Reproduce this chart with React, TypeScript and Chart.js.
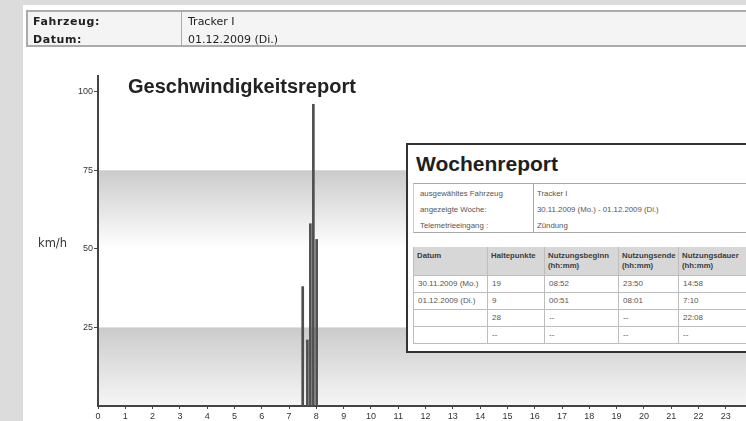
import React, { useEffect, useRef } from 'react';
import { Chart, registerables } from 'chart.js';

Chart.register(...registerables);

// ---- data ----
const stopHours = [7.5, 7.67, 7.78, 7.89, 8.01];
const speedsKmh = [38, 21, 58, 96, 53];
const xTickValues = [0, 1, 2, 3, 4, 5, 6, 7, 8, 9, 10, 11, 12, 13, 14, 15, 16, 17, 18, 19, 20, 21, 22, 23];
const yTickValues = [25, 50, 75, 100];
const shadedBands = [
  [50, 75],
  [0, 25],
];
const chartTitle = 'Geschwindigkeitsreport';
const yAxisLabel = 'km/h';
const headerRows = [
  ['Fahrzeug:', 'Tracker I'],
  ['Datum:', '01.12.2009 (Di.)'],
];
const reportTitle = 'Wochenreport';
const infoRows = [
  ['ausgewähltes Fahrzeug', 'Tracker I'],
  ['angezeigte Woche:', '30.11.2009 (Mo.) - 01.12.2009 (Di.)'],
  ['Telemetrieeingang :', 'Zündung'],
];
const tableHead = [
  ['Datum'],
  ['Haltepunkte'],
  ['Nutzungsbeginn', '(hh:mm)'],
  ['Nutzungsende', '(hh:mm)'],
  ['Nutzungsdauer', '(hh:mm)'],
];
const tableRows = [
  ['30.11.2009 (Mo.)', '19', '08:52', '23:50', '14:58'],
  ['01.12.2009 (Di.)', '9', '00:51', '08:01', '7:10'],
  ['', '28', '--', '--', '22:08'],
  ['', '--', '--', '--', '--'],
];

const colWidths = [74, 57, 74, 60, 90];

const bandPlugin = {
  id: 'bands',
  beforeDraw(chart: any) {
    const { ctx, chartArea, scales } = chart;
    const y = scales.y;
    ctx.save();
    shadedBands.forEach(([lo, hi], i) => {
      const top = y.getPixelForValue(hi);
      const bot = y.getPixelForValue(lo);
      const g = ctx.createLinearGradient(0, top, 0, bot);
      g.addColorStop(0, '#cbcbcb');
      g.addColorStop(1, i === 0 ? '#ffffff' : '#f6f6f6');
      ctx.fillStyle = g;
      ctx.fillRect(chartArea.left, top, chartArea.right - chartArea.left, bot - top);
    });
    ctx.restore();
  },
};

function SpeedChart() {
  const ref = useRef<HTMLCanvasElement>(null);
  useEffect(() => {
    if (!ref.current) return;
    const chart = new Chart(ref.current, {
      type: 'bar',
      data: {
        datasets: [
          {
            data: stopHours.map((h, i) => ({ x: h, y: speedsKmh[i] })),
            backgroundColor: '#4f4f4f',
            borderWidth: 0,
            barThickness: 2,
          },
        ],
      },
      options: {
        animation: false,
        responsive: false,
        maintainAspectRatio: false,
        layout: { padding: { top: 76, left: 0, right: 0, bottom: 0 } },
        plugins: {
          legend: { display: false },
          tooltip: { enabled: false },
          title: { display: false },
        },
        scales: {
          x: {
            type: 'linear',
            offset: false,
            min: 0,
            max: 23.74,
            afterBuildTicks: (s: any) => {
              s.ticks = xTickValues.map((v) => ({ value: v }));
            },
            afterFit: (s: any) => {
              s.height = 15;
            },
            grid: { drawOnChartArea: false, offset: false, tickLength: 3, color: '#444' },
            border: { color: '#444', width: 2 },
            ticks: {
              font: { family: 'Liberation Sans', size: 9 },
              color: '#333',
              padding: 2,
              maxRotation: 0,
              autoSkip: false,
            },
          },
          y: {
            min: 0,
            max: 105,
            afterBuildTicks: (s: any) => {
              s.ticks = yTickValues.map((v) => ({ value: v }));
            },
            afterFit: (s: any) => {
              s.width = 98;
            },
            grid: { drawOnChartArea: false, tickLength: 4, color: '#444' },
            border: { color: '#444', width: 2 },
            ticks: {
              font: { family: 'Liberation Sans', size: 9 },
              color: '#333',
              padding: 1,
            },
          },
        },
      } as any,
      plugins: [bandPlugin],
    });
    return () => chart.destroy();
  }, []);
  return (
    <canvas
      ref={ref}
      width={746}
      height={421}
      style={{ position: 'absolute', left: 0, top: 0, width: 746, height: 421 }}
    />
  );
}

export default function App() {
  const cellBorder = '1px solid #bdbdbd';
  return (
    <div
      style={{
        position: 'fixed',
        left: 0,
        top: 0,
        width: 746,
        height: 421,
        overflow: 'hidden',
        background: '#dcdcdc',
      }}
    >
      <div style={{ position: 'absolute', left: 23, top: 5, right: 0, bottom: 0, background: '#ffffff' }} />
      <SpeedChart />

      {/* header table */}
      <div
        style={{
          position: 'absolute',
          left: 26,
          top: 10,
          width: 760,
          height: 37,
          boxSizing: 'border-box',
          border: '2px solid #ababab',
          background: '#f4f4f4',
          fontFamily: 'DejaVu Sans',
          fontSize: 11,
          color: '#222',
        }}
      >
        <div style={{ position: 'absolute', left: 153, top: 0, bottom: 0, borderLeft: '1px solid #ababab' }} />
        {headerRows.map((r, i) => (
          <React.Fragment key={i}>
            <div
              style={{
                position: 'absolute',
                left: 5,
                top: 2 + i * 18,
                lineHeight: '16px',
                fontWeight: 'bold',
                letterSpacing: '0.6px',
              }}
            >
              {r[0]}
            </div>
            <div style={{ position: 'absolute', left: 160, top: 2 + i * 18, lineHeight: '16px' }}>{r[1]}</div>
          </React.Fragment>
        ))}
      </div>

      {/* chart texts */}
      <div
        style={{
          position: 'absolute',
          left: 128,
          top: 76,
          lineHeight: '20px',
          fontFamily: 'Liberation Sans',
          fontWeight: 'bold',
          fontSize: 20,
          color: '#222',
          whiteSpace: 'nowrap',
        }}
      >
        {chartTitle}
      </div>
      <div
        style={{
          position: 'absolute',
          left: 38,
          top: 236,
          lineHeight: '14px',
          fontFamily: 'DejaVu Sans',
          fontSize: 11.5,
          color: '#333',
        }}
      >
        {yAxisLabel}
      </div>

      {/* Wochenreport overlay */}
      <div
        style={{
          position: 'absolute',
          left: 406,
          top: 143,
          width: 380,
          height: 210,
          boxSizing: 'border-box',
          border: '2px solid #333',
          background: '#ffffff',
          fontFamily: 'Liberation Sans',
        }}
      >
        <div
          style={{
            position: 'absolute',
            left: 8,
            top: 8,
            lineHeight: '21px',
            fontSize: 21,
            fontWeight: 'bold',
            color: '#1e1e1e',
          }}
        >
          {reportTitle}
        </div>

        {/* info table */}
        <div
          style={{
            position: 'absolute',
            left: 5,
            top: 38,
            width: 400,
            height: 50,
            boxSizing: 'border-box',
            borderTop: '1px solid #a8a8a8',
            borderBottom: '1px solid #a8a8a8',
            borderLeft: '1px solid #cfcfcf',
            fontSize: 7.8,
            color: '#555',
          }}
        >
          <div style={{ position: 'absolute', left: 119, top: 0, bottom: 0, borderLeft: '1px solid #a8a8a8' }} />
          {infoRows.map((r, i) => (
            <React.Fragment key={i}>
              <div style={{ position: 'absolute', left: 6, top: 2 + i * 16, lineHeight: '15px', whiteSpace: 'nowrap' }}>{r[0]}</div>
              <div style={{ position: 'absolute', left: 123, top: 2 + i * 16, lineHeight: '15px', whiteSpace: 'nowrap' }}>{r[1]}</div>
            </React.Fragment>
          ))}
        </div>

        {/* main table */}
        <table
          style={{
            position: 'absolute',
            left: 5,
            top: 102,
            borderCollapse: 'collapse',
            tableLayout: 'fixed',
            width: colWidths.reduce((a, b) => a + b, 0),
            borderLeft: cellBorder,
          }}
        >
          <colgroup>
            {colWidths.map((w, i) => (
              <col key={i} style={{ width: w }} />
            ))}
          </colgroup>
          <tbody>
            <tr style={{ height: 28, background: '#d7d7d7' }}>
              {tableHead.map((h, i) => (
                <td
                  key={i}
                  style={{
                    verticalAlign: 'top',
                    padding: '4px 0 0 3px',
                    fontSize: 7.8,
                    lineHeight: '10px',
                    fontWeight: 'bold',
                    color: '#3c3c3c',
                    borderRight: cellBorder,
                    borderBottom: cellBorder,
                    whiteSpace: 'nowrap',
                    overflow: 'hidden',
                  }}
                >
                  {h.map((l, j) => (
                    <div key={j}>{l}</div>
                  ))}
                </td>
              ))}
            </tr>
            {tableRows.map((r, i) => (
              <tr key={i} style={{ height: 17 }}>
                {r.map((c, j) => (
                  <td
                    key={j}
                    style={{
                      padding: '0 0 0 4px',
                      fontSize: 8,
                      lineHeight: '16px',
                      color: '#555',
                      borderRight: cellBorder,
                      borderBottom: cellBorder,
                      whiteSpace: 'nowrap',
                      overflow: 'hidden',
                    }}
                  >
                    {c}
                  </td>
                ))}
              </tr>
            ))}
          </tbody>
        </table>
      </div>
    </div>
  );
}
